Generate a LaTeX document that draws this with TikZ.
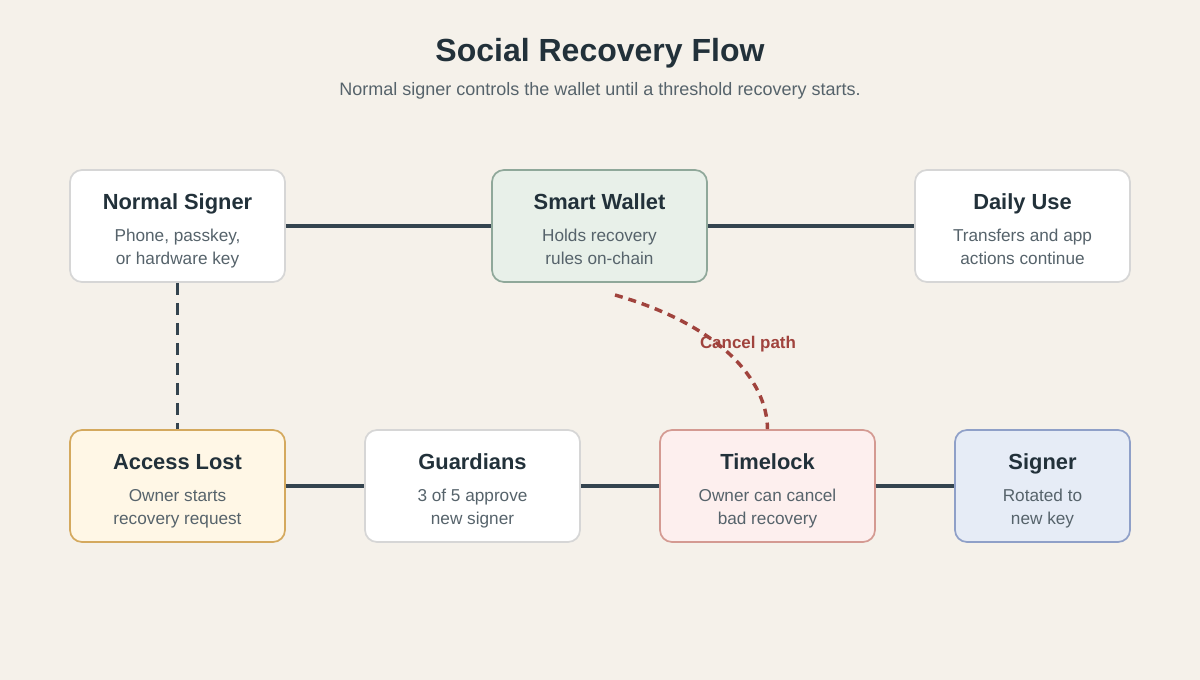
\documentclass[tikz,border=0pt]{standalone}
\usepackage{fontspec}
\setmainfont{Liberation Sans}
\begin{document}
\definecolor{bg}{HTML}{F5F1EA}
\definecolor{ink}{HTML}{22313A}
\definecolor{sub}{HTML}{56636B}
\definecolor{ln}{HTML}{34444F}
\definecolor{gb}{HTML}{D6D6D6}
\definecolor{gf}{HTML}{E8F0E9}\definecolor{gd}{HTML}{8FA89A}
\definecolor{yf}{HTML}{FFF7E6}\definecolor{yd}{HTML}{D4A95E}
\definecolor{rf}{HTML}{FDEFEE}\definecolor{rd}{HTML}{D49A92}
\definecolor{bf}{HTML}{E6ECF6}\definecolor{bd}{HTML}{8FA0C8}
\definecolor{red}{HTML}{A0433D}
\begin{tikzpicture}[x=0.75pt,y=-0.75pt,
 box/.style={draw=gb,fill=white,line width=1.3pt,rounded corners=9pt,minimum width=161.25pt,minimum height=84pt,inner sep=0pt},
 ttl/.style={font=\bfseries\fontsize{16.4}{19}\selectfont,text=ink,anchor=base,inner sep=0pt},
 txt/.style={font=\fontsize{12.9}{17.25}\selectfont,text=sub,anchor=base,inner sep=0pt},
 conn/.style={draw=ln,line width=2.6pt}]
\fill[bg] (0,0) rectangle (1200,680);
\node[font=\bfseries\fontsize{24}{28}\selectfont,text=ink] (t) at (600,53) {Social Recovery Flow};
\node[font=\fontsize{13.5}{16}\selectfont,text=sub] (s) at (600,90.5) {Normal signer controls the wallet until a threshold recovery starts.};
\node[box] (ns) at (177.5,226) {};
\node[box,fill=gf,draw=gd] (sw) at (599.5,226) {};
\node[box] (du) at (1022.5,226) {};
\node[box,fill=yf,draw=yd] (al) at (177.5,486) {};
\node[box] (gu) at (472.5,486) {};
\node[box,fill=rf,draw=rd] (tl) at (767.5,486) {};
\node[box,fill=bf,draw=bd,minimum width=131.25pt] (sg) at (1042.5,486) {};
\draw[conn] (ns.east) -- (sw.west);
\draw[conn] (sw.east) -- (du.west);
\draw[conn] (al.east) -- (gu.west);
\draw[conn] (gu.east) -- (tl.west);
\draw[conn] (tl.east) -- (sg.west);
\draw[conn,dash pattern=on 9pt off 6pt] (ns.south) -- (al.north);
\coordinate (cs) at (615,295);
\draw[draw=red,line width=2.6pt,dash pattern=on 6pt off 4.5pt] (cs) .. controls (720,325) and (767,380) .. (tl.north);
\node[font=\bfseries\fontsize{12.7}{15}\selectfont,text=red] (cp) at (748,344) {Cancel path};
\foreach \n/\a/\b/\c in {ns/Normal Signer/{Phone, passkey,}/or hardware key, sw/Smart Wallet/Holds recovery/rules on-chain, du/Daily Use/Transfers and app/actions continue, al/Access Lost/Owner starts/recovery request, gu/Guardians/3 of 5 approve/new signer, tl/Timelock/Owner can cancel/bad recovery, sg/Signer/Rotated to/new key}{
 \node[ttl] (\n t) at ([yshift=-30pt]\n.north) {\a};
 \node[txt] (\n s) at ([yshift=-54pt]\n.north) {\b};
 \node[txt] (\n u) at ([yshift=-71.25pt]\n.north) {\c};
}
\end{tikzpicture}
\end{document}
